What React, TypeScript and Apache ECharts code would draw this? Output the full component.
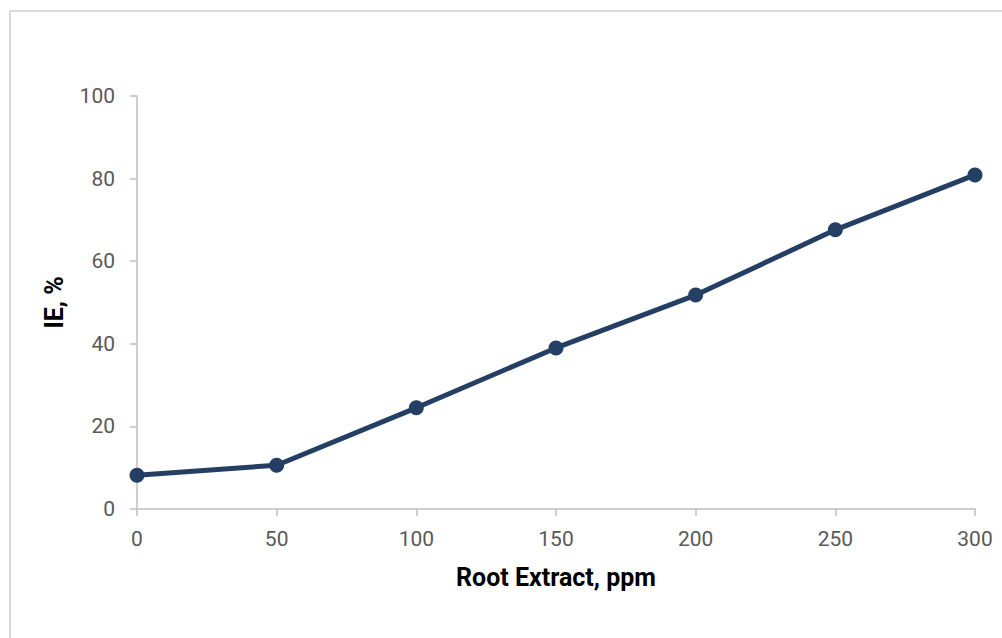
import React, { useEffect, useRef } from "react";
import * as echarts from "echarts";

const concentrations = [0, 50, 100, 150, 200, 250, 300];
const efficiency = [8.2, 10.6, 24.5, 39.0, 51.8, 67.6, 80.9];
const xTicks = [0, 50, 100, 150, 200, 250, 300];
const yTicks = [0, 20, 40, 60, 80, 100];

export default function App() {
  const ref = useRef<HTMLDivElement>(null);
  useEffect(() => {
    if (!ref.current) return;
    const chart = echarts.init(ref.current, undefined, { renderer: "svg" });
    const axisLine = { show: true, lineStyle: { color: "#bfbfbf", width: 1.5 } };
    chart.setOption({
      animation: false,
      backgroundColor: "#ffffff",
      graphic: [
        {
          type: "rect",
          shape: { x: 10, y: 11, width: 1010, height: 650 },
          style: { fill: "none", stroke: "#d9d9d9", lineWidth: 2 },
          silent: true,
        },
      ],
      grid: { left: 137, right: 27, top: 96, bottom: 129, containLabel: false },
      xAxis: {
        type: "value",
        min: xTicks[0],
        max: xTicks[xTicks.length - 1],
        interval: 50,
        name: "Root Extract, ppm",
        nameLocation: "middle",
        nameGap: 56,
        nameTextStyle: { fontFamily: "Roboto", fontWeight: "bold", fontSize: 25, color: "#000000" },
        axisLine,
        axisTick: { show: true, length: 7, lineStyle: { color: "#bfbfbf", width: 1.5 } },
        axisLabel: { fontFamily: "Roboto", fontSize: 21, color: "#595959", margin: 19 },
        splitLine: { show: false },
      },
      yAxis: {
        type: "value",
        min: yTicks[0],
        max: yTicks[yTicks.length - 1],
        interval: 20,
        name: "IE, %",
        nameLocation: "middle",
        nameGap: 70,
        nameRotate: 90,
        nameTextStyle: { fontFamily: "Roboto", fontWeight: "bold", fontSize: 25, color: "#000000" },
        axisLine,
        axisTick: { show: true, length: 7, lineStyle: { color: "#bfbfbf", width: 1.5 } },
        axisLabel: { fontFamily: "Roboto", fontSize: 21, color: "#595959", margin: 22 },
        splitLine: { show: false },
      },
      series: [
        {
          type: "line",
          data: concentrations.map((c, i) => [c, efficiency[i]]),
          symbol: "circle",
          symbolSize: 15,
          lineStyle: { color: "#243f63", width: 5 },
          itemStyle: { color: "#243f63" },
        },
      ],
    });
    return () => chart.dispose();
  }, []);
  return (
    <div
      ref={ref}
      style={{ position: "fixed", left: 0, top: 0, width: 1002, height: 638 }}
    />
  );
}
